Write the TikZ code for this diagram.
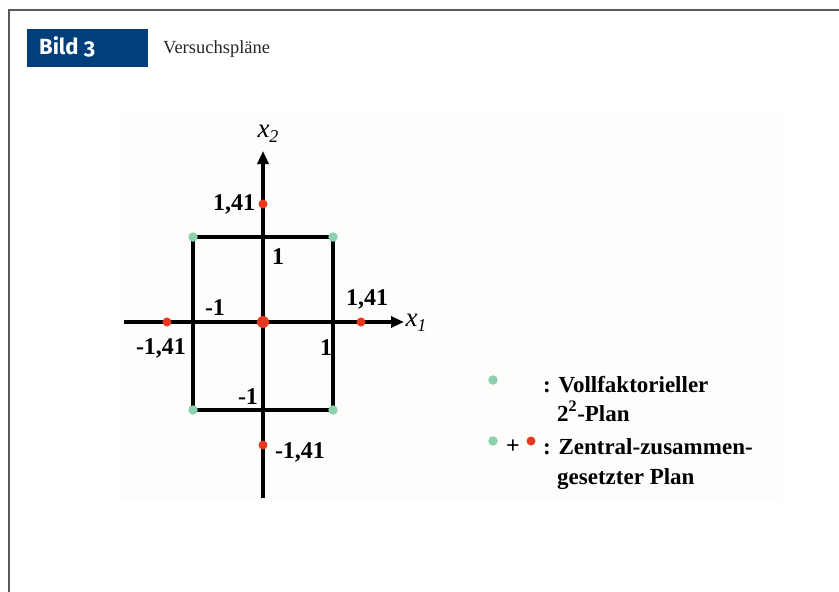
\documentclass[tikz,border=0pt]{standalone}
\usepackage{fontspec}
\setmainfont{Liberation Serif}
\newfontfamily\badgefont{Fira Sans}[Numbers=OldStyle]
\usetikzlibrary{arrows.meta}

\definecolor{bildblue}{HTML}{003F7A}
\definecolor{ptred}{HTML}{E8391F}
\definecolor{ptgreen}{HTML}{8DD1AE}
\definecolor{framegray}{HTML}{5A5A5A}
\definecolor{panelbg}{HTML}{FFFDFB}

\tikzset{
  axis/.style={line width=3.2pt, -{Triangle[length=13pt,width=11pt]}},
  planbox/.style={line width=3.2pt},
  reddot/.style={circle, fill=ptred, inner sep=0pt, minimum size=9pt},
  bigreddot/.style={circle, fill=ptred, inner sep=0pt, minimum size=12pt},
  greendot/.style={circle, fill=ptgreen, inner sep=0pt, minimum size=9.5pt},
  lbl/.style={font=\bfseries\fontsize{24}{24}\selectfont, inner sep=0pt},
  axlbl/.style={font=\itshape\fontsize{27}{27}\selectfont, inner sep=0pt},
  legtext/.style={font=\bfseries\fontsize{23}{23}\selectfont, inner sep=0pt, anchor=base west},
}

\begin{document}
\begin{tikzpicture}[x=1pt, y=-1pt]
\useasboundingbox (0,0) rectangle (839,592);

% light panel behind the chart
\fill[panelbg] (118,113) rectangle (782,500);

% page frame (left and top rules)
\draw[framegray, line width=1.6pt] (9,592) -- (9,10) -- (839,10);

% header
\node[fill=bildblue, minimum width=121pt, minimum height=38pt, inner sep=0pt, anchor=north west] (badge) at (27,29) {};
\node[anchor=west, text=white, inner sep=0pt, font=\badgefont\bfseries\fontsize{22}{22}\selectfont] (bild) at (39,47) {Bild 3};
\node[anchor=west, inner sep=0pt, text=black!85, font=\fontsize{18.5}{18.5}\selectfont] (title) at (163,49) {Versuchspläne};

% axis end points
\coordinate (xl) at (124,322);
\coordinate (xr) at (404,322);
\coordinate (yb) at (263,498);
\coordinate (yt) at (263,151);

% square of the factorial plan
\coordinate (c1) at (193,237);
\coordinate (c2) at (333,237);
\coordinate (c3) at (333,410);
\coordinate (c4) at (193,410);
\draw[planbox] (c1) -- (c2) -- (c3) -- (c4) -- cycle;

% axes
\draw[axis] (xl) -- (xr);
\draw[axis] (yb) -- (yt);

\node[axlbl] (x1) at (416,323) {x\raisebox{-5pt}{\fontsize{18}{18}\selectfont 1}};
\node[axlbl] (x2) at (268,134) {x\raisebox{-5pt}{\fontsize{18}{18}\selectfont 2}};

% corner points
\node[greendot] (g1) at (c1) {};
\node[greendot] (g2) at (c2) {};
\node[greendot] (g3) at (c3) {};
\node[greendot] (g4) at (c4) {};

% star and centre points
\node[reddot] (st) at (263,204) {};
\node[reddot] (sb) at (263,445) {};
\node[reddot] (sl) at (167,322) {};
\node[reddot] (sr) at (361,322) {};
\node[bigreddot] (ctr) at (263,322) {};

% axis labels
\node[lbl] (l1) at (234,204) {1,41};
\node[lbl] (l2) at (278,257) {1};
\node[lbl] (l3) at (215,308) {-1};
\node[lbl] (l4) at (367,299) {1,41};
\node[lbl] (l5) at (161,348) {-1,41};
\node[lbl] (l6) at (326,348) {1};
\node[lbl] (l7) at (248,397) {-1};
\node[lbl] (l8) at (300,452) {-1,41};

% legend
\node[greendot] (lg1) at (493,380) {};
\node[legtext] (lt1) at (543,392) {: Vollfaktorieller};
\node[legtext] (lt2) at (557,421) {2\textsuperscript{2}-Plan};
\node[greendot] (lg2) at (493,441) {};
\node[font=\bfseries\fontsize{24}{24}\selectfont, inner sep=0pt] (plus) at (513,447) {+};
\node[reddot] (lr2) at (531,441) {};
\node[legtext] (lt3) at (543,454) {: Zentral-zusammen-};
\node[legtext] (lt4) at (557,484) {gesetzter Plan};
\end{tikzpicture}
\end{document}
